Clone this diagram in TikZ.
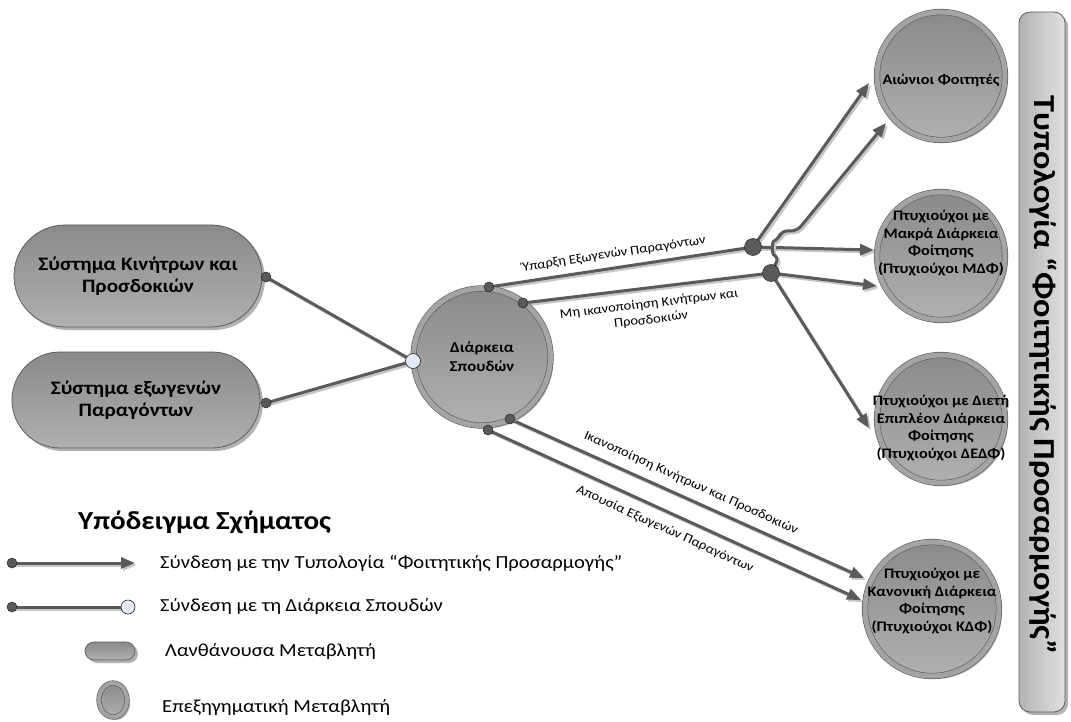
\documentclass[tikz,border=0pt]{standalone}
\usepackage{fontspec}
\setmainfont{Carlito}[FakeStretch=1.12]
\usetikzlibrary{arrows.meta,shadows,shapes.misc,shapes.geometric}
\definecolor{lnC}{HTML}{5A5A5A}
\definecolor{shC}{HTML}{C6C6C6}
\definecolor{bdC}{HTML}{5C5C5C}
\definecolor{fTop}{HTML}{8A8A8A}
\definecolor{fBot}{HTML}{B0B0B0}
\definecolor{ringC}{HTML}{A4A4A4}
\definecolor{jC}{HTML}{E4EAF4}
\definecolor{barC}{HTML}{D3D3D3}
\pgfdeclarelayer{bg}
\pgfsetlayers{bg,main}
\begin{document}
\begin{tikzpicture}[x=1pt,y=-1pt,
  shd/.style={drop shadow={shadow xshift=3pt,shadow yshift=-3pt,fill=black!30,opacity=1}},
  latent/.style={rounded rectangle, draw=bdC, line width=0.8pt, top color=fTop, bottom color=fBot,
     minimum width=248pt, minimum height=102pt, inner sep=0pt, shd,
     font=\bfseries\fontsize{19}{22}\selectfont, align=center},
  expl/.style={circle, draw=bdC, line width=0.6pt, double=ringC, double distance=5pt,
     top color=fTop, bottom color=fBot, inner sep=0pt, shd},
  ctext/.style={font=\bfseries\fontsize{14.5}{17.6}\selectfont, align=center, inner sep=0pt},
  conn/.style={draw=lnC, line width=3pt,
     preaction={draw=shC, line width=3pt, transform canvas={shift={(2pt,-2pt)}}}},
  arr/.style={conn, -{Triangle[length=14pt,width=11pt]}},
  dotn/.style={circle, fill=lnC, draw=black!85, line width=0.5pt, inner sep=0pt, minimum size=10pt},
  jdot/.style={dotn, minimum size=17pt},
  wdot/.style={circle, fill=jC, draw=black!85, line width=0.6pt, inner sep=0pt, minimum size=15pt},
  elab/.style={font=\fontsize{13}{16}\selectfont, align=center, inner sep=0pt},
  legt/.style={font=\fontsize{18.4}{22}\selectfont, anchor=west, inner sep=0pt}
]
\useasboundingbox (0,0) rectangle (1071,722);

% latent variables
\node[latent] (s1) at (138,276) {Σύστημα Κινήτρων και\\Προσδοκιών};
\node[latent, minimum height=96pt] (s2) at (136,400) {Σύστημα εξωγενών\\Παραγόντων};

% explanatory variables
\node[expl, minimum size=137pt, font=\bfseries\fontsize{15}{19}\selectfont, align=center] (m) at (482,357) {Διάρκεια\\Σπουδών};
\node[expl, minimum size=128pt] (a) at (941,76) {};
\node[expl, minimum size=128pt] (b) at (941,256) {};
\node[expl, minimum size=128pt] (c) at (941,419) {};
\node[expl, minimum size=134pt] (d) at (932,609) {};
\node[ctext] (at) at (941,80) {Αιώνιοι Φοιτητές};
\node[ctext] (bt) at (941,243) {Πτυχιούχοι με\\Μακρά Διάρκεια\\Φοίτησης\\(Πτυχιούχοι ΜΔΦ)};
\node[ctext] (ct) at (941,428) {Πτυχιούχοι με Διετή\\Επιπλέον Διάρκεια\\Φοίτησης\\(Πτυχιούχοι ΔΕΔΦ)};
\node[ctext] (dt) at (932,601) {Πτυχιούχοι με\\Κανονική Διάρκεια\\Φοίτησης\\(Πτυχιούχοι ΚΔΦ)};

% typology bar
\node[rectangle, rounded corners=11pt, draw=bdC, line width=0.8pt, left color=barC!85!black, right color=barC!70!white,
  minimum width=46pt, minimum height=700pt, shd] (bar) at (1042,362) {};
\node[rotate=-90, font=\bfseries\fontsize{30.5}{34}\selectfont, inner sep=0pt] (bart) at (1043,375) {Τυπολογία “Φοιτητικής Προσαρμογής”};

% connection points
\node[dotn] (ds1) at (266,277) {};
\node[dotn] (ds2) at (266,403) {};
\node[wdot] (jw) at (413,361) {};
\node[dotn] (t1) at (489,287) {};
\node[dotn] (t2) at (523,303) {};
\node[dotn] (b1) at (510,419) {};
\node[dotn] (b2) at (488,430) {};
\node[jdot] (j1) at (753,247) {};
\node[jdot] (j2) at (771,273) {};
\coordinate (a1) at (869,83);
\coordinate (a2) at (886,123);
\coordinate (m1) at (874,250);
\coordinate (m2) at (877,286);
\coordinate (c1) at (869,428);
\coordinate (d1) at (864,578);
\coordinate (d2) at (861,600);

% legend
\node[font=\bfseries\fontsize{26}{30}\selectfont, anchor=west, inner sep=0pt] (lt) at (78,522) {Υπόδειγμα Σχήματος};
\node[dotn] (l1a) at (12,563) {};
\coordinate (l1b) at (135,563);
\node[legt] (l1t) at (160,563) {Σύνδεση με την Τυπολογία “Φοιτητικής Προσαρμογής”};
\node[dotn] (l2a) at (12,607) {};
\node[wdot, minimum size=14pt] (l2b) at (128,607) {};
\node[legt] (l2t) at (160,607) {Σύνδεση με τη Διάρκεια Σπουδών};
\node[rounded rectangle, draw=bdC, line width=0.7pt, top color=fTop, bottom color=fBot,
  minimum width=50pt, minimum height=18pt, inner sep=0pt, shd] (l3s) at (110,651) {};
\node[legt] (l3t) at (165,652) {Λανθάνουσα Μεταβλητή};
\node[ellipse, draw=bdC, line width=0.6pt, double=ringC, double distance=4pt, top color=fTop, bottom color=fBot,
  minimum width=28pt, minimum height=34pt, inner sep=0pt, shd] (l4s) at (113,700) {};
\node[legt] (l4t) at (162,708) {Επεξηγηματική Μεταβλητή};

% edge labels
\node[elab, rotate=8.6] (e1) at (614,254) {Ύπαρξη Εξωγενών Παραγόντων};
\node[elab, rotate=6.9] (e2) at (650,312) {Μη ικανοποίηση Κινήτρων και\\Προσδοκιών};
\node[elab, rotate=-24.3] (e3) at (691,483) {Ικανοποίηση Κινήτρων και Προσδοκιών};
\node[elab, rotate=-24.5] (e4) at (665,529) {Απουσία Εξωγενών Παραγόντων};

% connectors
\begin{pgfonlayer}{bg}
\draw[conn] (ds1.center) -- (jw.center);
\draw[conn] (ds2.center) -- (jw.center);
\draw[conn] (t1.center) -- (j1.center);
\draw[conn] (t2.center) -- (j2.center);
\draw[arr] (j1.center) -- (a1);
\draw[arr] (j1.center) -- (m1);
\draw[arr] (j2.center) -- (m2);
\draw[arr] (j2.center) -- (c1);
\draw[arr] (b1.center) -- (d1);
\draw[arr] (b2.center) -- (d2);
\draw[arr, rounded corners=6pt] (j2.center) -- (779,257) .. controls (772,254) and (772,242) .. (779,239) -- (781,231) -- (797,231) -- (a2);
\draw[arr] (l1a.center) -- (l1b);
\draw[conn] (l2a.center) -- (l2b.center);
\end{pgfonlayer}
\end{tikzpicture}
\end{document}
